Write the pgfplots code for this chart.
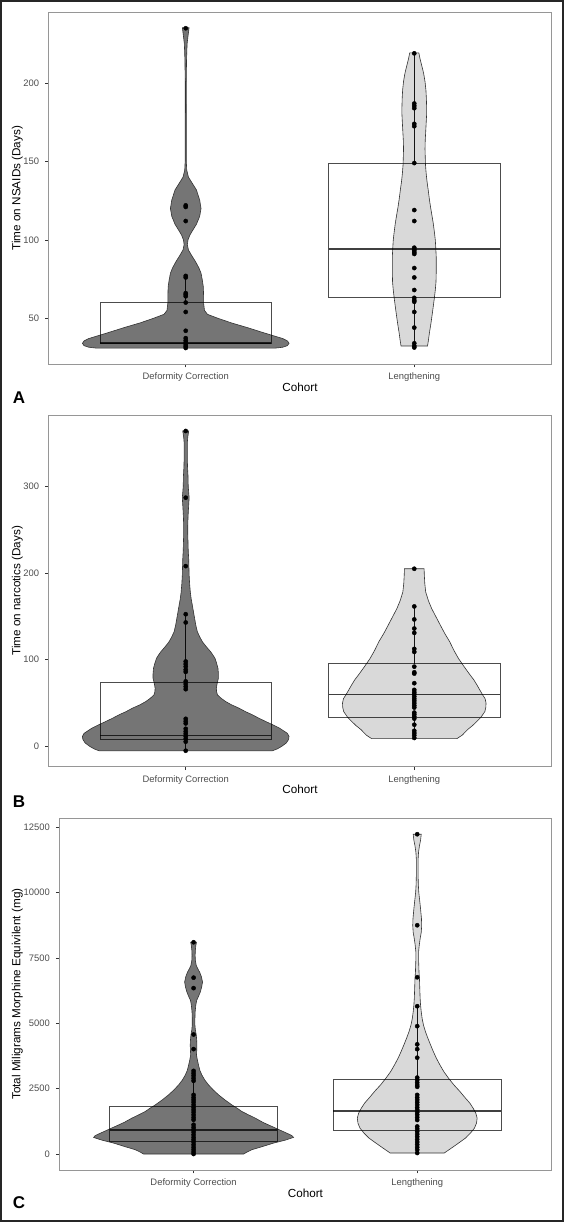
\documentclass[border=0pt]{standalone}
\usepackage{pgfplots}
\pgfplotsset{compat=1.18}
\usepackage{fontspec}
\setmainfont{Liberation Sans}
\definecolor{dcfill}{RGB}{117,117,117}
\definecolor{lfill}{RGB}{217,217,217}
\definecolor{vline}{RGB}{51,51,51}
\definecolor{axisgray}{RGB}{150,150,150}
\definecolor{tickgray}{RGB}{51,51,51}
\definecolor{labgray}{RGB}{77,77,77}
\newcommand{\labfont}{\fontsize{11.7}{13}\selectfont}
\pgfplotsset{
 myaxis/.style={
  scale only axis, width=502.8pt, height=351.7pt, anchor=south west,
  xmin=0.4, xmax=2.6,
  xtick={1,2}, xticklabels={Deformity Correction,Lengthening},
  axis line style={draw=axisgray, line width=0.8pt},
  tick align=outside, major tick length=3.5pt,
  tick style={draw=tickgray, line width=0.6pt},
  xtick pos=bottom, ytick pos=left,
  ticklabel style={font=\fontsize{9.4}{11}\selectfont, text=labgray},
  xticklabel style={anchor=base, inner sep=0pt, yshift=-12.5pt},
  yticklabel style={anchor=east, inner sep=0pt, xshift=-5.9pt, /pgf/number format/1000 sep={}},
  /pgf/number format/assume math mode=true,
  scaled y ticks=false,
  xlabel={Cohort},
  every axis x label/.style={at={(axis description cs:0.5,-0.0654)}, anchor=center, font=\labfont, text=black},
  every axis y label/.style={at={(axis description cs:-0.0623,0.5)}, rotate=90, anchor=center, font=\labfont, text=black},
 },
 vdc/.style={fill=dcfill, draw=vline, line width=0.6pt},
 vl/.style={fill=lfill, draw=vline, line width=0.6pt},
 bx/.style={draw=black, draw opacity=0.7, line width=0.9pt, fill=none, mark=none},
 med/.style={draw=black, draw opacity=0.75, line width=1.7pt, mark=none},
 wh/.style={draw=black, draw opacity=0.9, line width=0.6pt, mark=none},
 pts/.style={only marks, mark=*, mark size=2.1pt, black},
}
\begin{document}
\begin{tikzpicture}
\useasboundingbox (0,0) rectangle (564pt,1222pt);
% ---------------- Panel A ----------------
\begin{axis}[myaxis, at={(48.6pt,858pt)}, ymin=20.8, ymax=245.2, ytick={50,100,150,200},
  ylabel={Time on NSAIDs (Days)}]
\addplot[vdc] coordinates {(1.39,30.9)(1.425,31.5)(1.445,32.5)(1.452,34)(1.445,35.5)(1.425,37)(1.373,39.3)(1.335,41)(1.27,44)(1.20,47)(1.14,50)(1.095,52.5)(1.082,55)(1.078,60)(1.078,65)(1.077,70)(1.073,74)(1.067,78.7)(1.058,82)(1.047,85)(1.039,87)(1.026,90)(1.012,93.5)(1.007,97)(1.010,100)(1.018,103)(1.026,105)(1.047,110)(1.061,115)(1.067,120)(1.061,125.4)(1.047,131.8)(1.029,136)(1.012,140)(1.0044,144.5)(1.0025,150)(1.0022,200)(1.0036,215)(1.006,225)(1.010,230)(1.0146,235.3)
(0.9854,235.3)(0.990,230)(0.994,225)(0.9964,215)(0.9978,200)(0.9975,150)(0.9956,144.5)(0.988,140)(0.971,136)(0.953,131.8)(0.939,125.4)(0.933,120)(0.939,115)(0.953,110)(0.974,105)(0.982,103)(0.990,100)(0.993,97)(0.988,93.5)(0.974,90)(0.961,87)(0.953,85)(0.942,82)(0.933,78.7)(0.927,74)(0.923,70)(0.922,65)(0.922,60)(0.918,55)(0.905,52.5)(0.86,50)(0.80,47)(0.73,44)(0.665,41)(0.627,39.3)(0.575,37)(0.555,35.5)(0.548,34)(0.555,32.5)(0.575,31.5)(0.61,30.9)} -- cycle;
\addplot[vl] coordinates {(2.058,32.3)(2.062,36)(2.066,40.4)(2.073,46.8)(2.078,52)(2.083,57.4)(2.088,63)(2.092,68)(2.095,73)(2.096,78.7)(2.096,84)(2.096,89.3)(2.094,95)(2.092,99.9)(2.088,105)(2.083,110.6)(2.078,115)(2.071,121.1)(2.066,126)(2.061,131.8)(2.056,137)(2.052,142.4)(2.049,148)(2.048,153)(2.047,158)(2.048,163.7)(2.050,169)(2.052,174.3)(2.054,180)(2.054,184.9)(2.053,190)(2.051,195.5)(2.047,201)(2.041,206.2)(2.033,211)(2.026,215)(2.020,219.3)
(1.980,219.3)(1.974,215)(1.967,211)(1.959,206.2)(1.953,201)(1.949,195.5)(1.947,190)(1.946,184.9)(1.946,180)(1.948,174.3)(1.950,169)(1.952,163.7)(1.953,158)(1.952,153)(1.951,148)(1.948,142.4)(1.944,137)(1.939,131.8)(1.934,126)(1.929,121.1)(1.922,115)(1.917,110.6)(1.912,105)(1.908,99.9)(1.906,95)(1.904,89.3)(1.904,84)(1.904,78.7)(1.905,73)(1.908,68)(1.912,63)(1.917,57.4)(1.922,52)(1.927,46.8)(1.934,40.4)(1.938,36)(1.942,32.3)} -- cycle;
% boxes: Q1/Q3 rectangle, median, whiskers
\addplot[bx] coordinates {(0.625,34)(1.375,34)(1.375,60)(0.625,60)} -- cycle;
\addplot[med] coordinates {(0.625,34)(1.375,34)};
\addplot[wh] coordinates {(1,60)(1,77)};
\addplot[wh] coordinates {(1,31)(1,34)};
\addplot[bx] coordinates {(1.625,63)(2.375,63)(2.375,149)(1.625,149)} -- cycle;
\addplot[med] coordinates {(1.625,94)(2.375,94)};
\addplot[wh] coordinates {(2,149)(2,219)};
\addplot[wh] coordinates {(2,31.3)(2,63)};
\addplot[pts] coordinates {(1,235)(1,122)(1,121)(1,112)(1,77)(1,76)(1,66)(1,65)(1,64)(1,60)(1,54)(1,42)(1,37.3)(1,35.8)(1,34.5)(1,33)(1,32)(1,31)};
\addplot[pts] coordinates {(2,219)(2,187)(2,185.5)(2,184)(2,174)(2,172.5)(2,149)(2,119)(2,112)(2,95)(2,94)(2,93)(2,92)(2,91)(2,82)(2,76)(2,68)(2,63)(2,61.5)(2,60.5)(2,54)(2,44)(2,34)(2,32.3)(2,31.3)};
\end{axis}
% ---------------- Panel B ----------------
\begin{axis}[myaxis, at={(48.6pt,455.3pt)}, ymin=-23.45, ymax=382.45, ytick={0,100,200,300},
  ylabel={Time on narcotics (Days)}]
\addplot[vdc] coordinates {(1.38,-5)(1.40,-3)(1.42,0)(1.44,3.9)(1.45,8)(1.452,11.5)(1.445,15)(1.41,21.1)(1.38,25)(1.35,28.7)(1.32,32.5)(1.292,36.4)(1.262,40)(1.233,44.1)(1.20,48)(1.175,51.7)(1.155,55.5)(1.139,59.4)(1.135,63)(1.134,67.1)(1.137,72)(1.143,78.6)(1.143,84)(1.141,90.1)(1.135,96)(1.128,101.6)(1.12,105)(1.109,109.2)(1.09,115)(1.073,120.7)(1.062,126)(1.051,132.2)(1.044,140)(1.039,147.6)(1.034,155)(1.029,162.9)(1.024,170)(1.020,178.2)(1.017,188)(1.015,197.4)(1.014,207)(1.013,216.5)(1.011,226)(1.010,235.6)(1.009,245)(1.009,254.8)(1.010,264)(1.012,274)(1.015,287)(1.013,293.1)(1.011,300)(1.010,312.3)(1.008,322)(1.007,331.5)(1.007,341)(1.007,350.6)(1.009,357)(1.013,364)
(0.987,364)(0.991,357)(0.993,350.6)(0.993,341)(0.993,331.5)(0.992,322)(0.990,312.3)(0.989,300)(0.987,293.1)(0.985,287)(0.988,274)(0.990,264)(0.991,254.8)(0.991,245)(0.990,235.6)(0.989,226)(0.987,216.5)(0.986,207)(0.985,197.4)(0.983,188)(0.980,178.2)(0.976,170)(0.971,162.9)(0.966,155)(0.961,147.6)(0.956,140)(0.949,132.2)(0.938,126)(0.927,120.7)(0.91,115)(0.891,109.2)(0.88,105)(0.872,101.6)(0.865,96)(0.859,90.1)(0.857,84)(0.857,78.6)(0.863,72)(0.866,67.1)(0.865,63)(0.861,59.4)(0.845,55.5)(0.825,51.7)(0.80,48)(0.767,44.1)(0.738,40)(0.708,36.4)(0.68,32.5)(0.65,28.7)(0.62,25)(0.59,21.1)(0.555,15)(0.548,11.5)(0.55,8)(0.56,3.9)(0.58,0)(0.60,-3)(0.62,-5)} -- cycle;
\addplot[vl] coordinates {(2.187,9)(2.21,13)(2.233,19.3)(2.255,24)(2.274,28.8)(2.293,34)(2.309,40.3)(2.313,45)(2.314,49.9)(2.31,55)(2.299,59.5)(2.287,65)(2.274,71)(2.26,77)(2.244,82.5)(2.218,92)(2.193,101.6)(2.173,111)(2.155,120.8)(2.134,130)(2.114,139.9)(2.094,150)(2.076,159.1)(2.062,168)(2.050,178.2)(2.046,188)(2.044,197.4)(2.043,205)
(1.957,205)(1.956,197.4)(1.954,188)(1.950,178.2)(1.938,168)(1.924,159.1)(1.906,150)(1.886,139.9)(1.866,130)(1.845,120.8)(1.827,111)(1.807,101.6)(1.782,92)(1.756,82.5)(1.74,77)(1.726,71)(1.713,65)(1.701,59.5)(1.69,55)(1.686,49.9)(1.687,45)(1.691,40.3)(1.707,34)(1.726,28.8)(1.745,24)(1.767,19.3)(1.79,13)(1.813,9)} -- cycle;
\addplot[bx] coordinates {(0.625,7.7)(1.375,7.7)(1.375,74)(0.625,74)} -- cycle;
\addplot[med] coordinates {(0.625,12.6)(1.375,12.6)};
\addplot[wh] coordinates {(1,74)(1,152.5)};
\addplot[wh] coordinates {(1,-5)(1,7.7)};
\addplot[bx] coordinates {(1.625,33.4)(2.375,33.4)(2.375,95.4)(1.625,95.4)} -- cycle;
\addplot[med] coordinates {(1.625,60)(2.375,60)};
\addplot[wh] coordinates {(2,95.4)(2,161.5)};
\addplot[wh] coordinates {(2,9.7)(2,33.4)};
\addplot[pts] coordinates {(1,364)(1,287)(1,208)(1,152.5)(1,143)(1,98)(1,95)(1,92)(1,88.5)(1,86)(1,75)(1,72)(1,69)(1,66)(1,31.8)(1,29)(1,26.5)(1,20.3)(1,17.2)(1,14.4)(1,11.5)(1,8.6)(1,5.4)(1,-5)};
\addplot[pts] coordinates {(2,205)(2,161.5)(2,146.5)(2,136)(2,131)(2,112.5)(2,109)(2,92)(2,85.5)(2,84)(2,72.9)(2,65.2)(2,62.5)(2,60.2)(2,57.5)(2,54.9)(2,52.5)(2,49.9)(2,47.2)(2,44.8)(2,39)(2,37)(2,34.6)(2,32)(2,25)(2,18)(2,15.4)(2,12.8)(2,9.7)};
\end{axis}
% ---------------- Panel C ----------------
\begin{axis}[myaxis, at={(59.4pt,52pt)}, width=492pt, ymin=-612, ymax=12842,
  ytick={0,2500,5000,7500,10000,12500},
  every axis y label/.style={at={(axis description cs:-0.0856,0.5)}, rotate=90, anchor=center, font=\labfont, text=black},
  ylabel={Total Miligrams Morphine Equivilent (mg)}]
\addplot[vdc] coordinates {(1.224,0)(1.24,80)(1.261,165)(1.31,290)(1.358,419)(1.41,530)(1.447,635)(1.44,700)(1.432,737)(1.39,900)(1.35,1055)(1.31,1210)(1.276,1372)(1.245,1500)(1.216,1626)(1.195,1750)(1.171,1880)(1.14,2070)(1.112,2261)(1.088,2450)(1.067,2642)(1.05,2830)(1.037,3023)(1.028,3200)(1.022,3404)(1.017,3600)(1.013,3785)(1.014,3950)(1.015,4166)(1.014,4350)(1.012,4547)(1.008,4750)(1.006,4928)(1.006,5180)(1.007,5436)(1.010,5700)(1.014,5880)(1.022,6030)(1.030,6197)(1.036,6380)(1.040,6578)(1.035,6780)(1.027,6960)(1.018,7100)(1.012,7214)(1.008,7400)(1.007,7600)(1.008,7800)(1.010,7976)(1.013,8100)
(0.987,8100)(0.990,7976)(0.992,7800)(0.993,7600)(0.992,7400)(0.988,7214)(0.982,7100)(0.973,6960)(0.965,6780)(0.960,6578)(0.964,6380)(0.970,6197)(0.978,6030)(0.986,5880)(0.990,5700)(0.993,5436)(0.994,5180)(0.994,4928)(0.992,4750)(0.988,4547)(0.986,4350)(0.985,4166)(0.986,3950)(0.987,3785)(0.983,3600)(0.978,3404)(0.972,3200)(0.963,3023)(0.95,2830)(0.933,2642)(0.912,2450)(0.888,2261)(0.86,2070)(0.829,1880)(0.805,1750)(0.784,1626)(0.755,1500)(0.724,1372)(0.69,1210)(0.65,1055)(0.61,900)(0.568,737)(0.56,700)(0.553,635)(0.59,530)(0.642,419)(0.69,290)(0.739,165)(0.76,80)(0.776,0)} -- cycle;
\addplot[vl] coordinates {(2.121,38)(2.14,150)(2.164,292)(2.19,450)(2.216,610)(2.238,800)(2.256,991)(2.265,1180)(2.268,1372)(2.262,1560)(2.25,1753)(2.235,1950)(2.216,2134)(2.19,2400)(2.164,2642)(2.14,2900)(2.119,3150)(2.102,3400)(2.086,3658)(2.073,3900)(2.06,4166)(2.048,4420)(2.037,4674)(2.028,4930)(2.022,5183)(2.018,5440)(2.015,5691)(2.013,5950)(2.012,6199)(2.011,6450)(2.010,6707)(2.008,6960)(2.007,7215)(2.006,7470)(2.006,7723)(2.009,7980)(2.013,8231)(2.018,8480)(2.020,8739)(2.019,9000)(2.015,9374)(2.011,9700)(2.007,10009)(2.005,10300)(2.004,10644)(2.004,11000)(2.004,11279)(2.006,11550)(2.010,11787)(2.015,12000)(2.018,12232)
(1.982,12232)(1.985,12000)(1.990,11787)(1.994,11550)(1.996,11279)(1.996,11000)(1.996,10644)(1.995,10300)(1.993,10009)(1.989,9700)(1.985,9374)(1.981,9000)(1.980,8739)(1.982,8480)(1.987,8231)(1.991,7980)(1.994,7723)(1.994,7470)(1.993,7215)(1.992,6960)(1.990,6707)(1.989,6450)(1.988,6199)(1.987,5950)(1.985,5691)(1.982,5440)(1.978,5183)(1.972,4930)(1.963,4674)(1.952,4420)(1.94,4166)(1.927,3900)(1.914,3658)(1.898,3400)(1.881,3150)(1.86,2900)(1.836,2642)(1.81,2400)(1.784,2134)(1.765,1950)(1.75,1753)(1.738,1560)(1.732,1372)(1.735,1180)(1.744,991)(1.762,800)(1.784,610)(1.81,450)(1.836,292)(1.86,150)(1.879,38)} -- cycle;
\addplot[bx] coordinates {(0.625,490)(1.375,490)(1.375,1800)(0.625,1800)} -- cycle;
\addplot[med] coordinates {(0.625,910)(1.375,910)};
\addplot[wh] coordinates {(1,1800)(1,3180)};
\addplot[wh] coordinates {(1,0)(1,490)};
\addplot[bx] coordinates {(1.625,910)(2.375,910)(2.375,2850)(1.625,2850)} -- cycle;
\addplot[med] coordinates {(1.625,1655)(2.375,1655)};
\addplot[wh] coordinates {(2,2850)(2,5653)};
\addplot[wh] coordinates {(2,38)(2,910)};
\addplot[pts] coordinates {(1,8100)(1,6745)(1,6345)(1,4572)(1,4013)(1,3180)(1,3087)(1,2998)(1,2897)(1,2800)(1,2261)(1,2160)(1,2071)(1,1982)(1,1880)(1,1779)(1,1690)(1,1601)(1,1499)(1,1398)(1,1309)(1,1118)(1,1017)(1,928)(1,839)(1,737)(1,635)(1,546)(1,457)(1,356)(1,254)(1,165)(1,76)(1,0)};
\addplot[pts] coordinates {(2,12232)(2,8750)(2,6760)(2,5653)(2,4890)(2,4195)(2,4010)(2,3684)(2,2922)(2,2830)(2,2730)(2,2640)(2,2570)(2,2261)(2,2160)(2,2070)(2,1980)(2,1880)(2,1780)(2,1690)(2,1600)(2,1500)(2,1400)(2,1300)(2,1054)(2,960)(2,860)(2,760)(2,660)(2,560)(2,460)(2,360)(2,260)(2,160)(2,38)};
\end{axis}
% panel letters and frame
\node[anchor=base west, inner sep=0pt, font=\fontsize{17}{20}\selectfont\bfseries] at (12.7pt,818pt) {A};
\node[anchor=base west, inner sep=0pt, font=\fontsize{17}{20}\selectfont\bfseries] at (12.7pt,414.5pt) {B};
\node[anchor=base west, inner sep=0pt, font=\fontsize{17}{20}\selectfont\bfseries] at (12.7pt,13pt) {C};
\draw[black!85, line width=2pt] (1pt,1pt) rectangle (563pt,1221pt);
\end{tikzpicture}
\end{document}
